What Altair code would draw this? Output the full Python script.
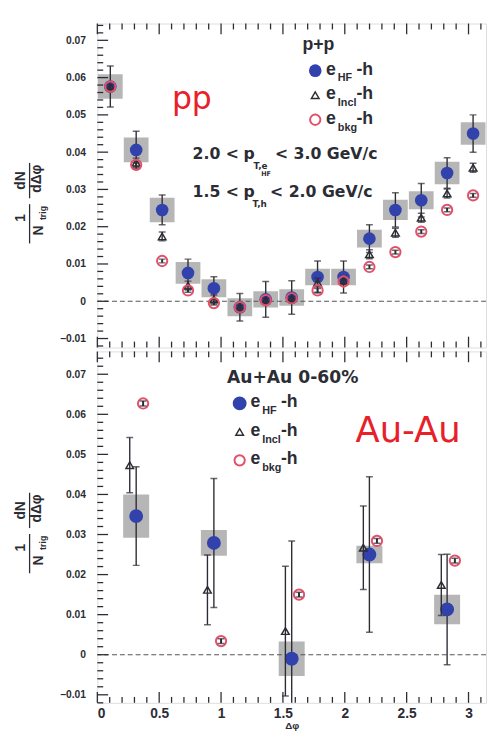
import math
import altair as alt
import pandas as pd

# ------------------------------------------------------------------ data
# p+p panel: 15 delta-phi bins
pp_dphi = [0.105, 0.314, 0.524, 0.733, 0.942, 1.152, 1.361, 1.571,
           1.780, 1.990, 2.199, 2.409, 2.618, 2.827, 3.037]
pp_hf = [0.0576, 0.0406, 0.0245, 0.0076, 0.0035, -0.0016, 0.0005, 0.0010,
         0.0065, 0.0065, 0.0168, 0.0245, 0.0271, 0.0344, 0.0450]
pp_hf_stat = [0.0055, 0.0050, 0.0040, 0.0037, 0.0031, 0.0037, 0.0048, 0.0045,
              0.0043, 0.0043, 0.0037, 0.0046, 0.0045, 0.0041, 0.0050]
pp_hf_sys = [0.0033, 0.0033, 0.0033, 0.0029, 0.0024, 0.0024, 0.0022, 0.0022,
             0.0022, 0.0022, 0.0024, 0.0027, 0.0024, 0.0030, 0.0030]
pp_incl = [0.0576, 0.0372, 0.0174, 0.0042, 0.0005, -0.0016, 0.0003, 0.0008,
           0.0050, 0.0056, 0.0126, 0.0184, 0.0224, 0.0289, 0.0358]
pp_incl_stat = [0.0012, 0.0012, 0.0012, 0.0012, 0.0012, 0.0012, 0.0012, 0.0012,
                0.0012, 0.0012, 0.0012, 0.0012, 0.0012, 0.0012, 0.0012]
pp_bkg = [0.0576, 0.0366, 0.0108, 0.0029, -0.0005, -0.0016, 0.0003, 0.0008,
          0.0029, 0.0053, 0.0092, 0.0132, 0.0187, 0.0245, 0.0284]
pp_bkg_stat = [0.0005, 0.0005, 0.0005, 0.0005, 0.0005, 0.0005, 0.0005, 0.0005,
               0.0005, 0.0005, 0.0005, 0.0005, 0.0005, 0.0005, 0.0005]

# Au+Au 0-60% panel: 5 delta-phi bins
au_dphi = [0.314, 0.942, 1.571, 2.199, 2.827]
au_dphi_incl = [0.262, 0.890, 1.520, 2.150, 2.780]
au_dphi_bkg = [0.370, 1.000, 1.630, 2.260, 2.890]
au_hf = [0.0346, 0.0279, -0.0010, 0.0250, 0.0113]
au_hf_stat = [0.0123, 0.0161, 0.0294, 0.0194, 0.0138]
au_hf_sys = [0.0054, 0.0032, 0.0043, 0.0022, 0.0037]
au_incl = [0.0473, 0.0162, 0.0059, 0.0267, 0.0174]
au_incl_stat = [0.0069, 0.0087, 0.0162, 0.0104, 0.0076]
au_bkg = [0.0627, 0.0034, 0.0150, 0.0284, 0.0235]
au_bkg_stat = [0.0006, 0.0006, 0.0006, 0.0006, 0.0006]

# axes
x_domain = [0, math.pi]
x_major = [0, 0.5, 1, 1.5, 2, 2.5, 3]
x_minor = [round(0.1 * i, 1) for i in range(32) if i % 5 != 0]
y_major = [-0.01, 0, 0.01, 0.02, 0.03, 0.04, 0.05, 0.06, 0.07]
pp_ydomain = [-0.0124, 0.0745]
au_ydomain = [-0.0120, 0.0757]
zero_line = [0.0]

# ------------------------------------------------------------------ style
INK = "#2c2c34"
HF_COLOR = "#3242ad"
BKG_COLOR = "#e2506a"
BOX_COLOR = "#a9a9a9"
RED = "#e8202a"
SANS = "Liberation Sans"
WIDE = "DejaVu Sans"
W = 396
H_TOP = 330
H_BOT = 358


def y_minor(dom):
    out = []
    i = -10
    while True:
        v = round(0.002 * i, 3)
        if v > dom[1]:
            break
        if v >= dom[0] and (i % 5) != 0:
            out.append(v)
        i += 1
    return out


def frame(x, y, stat, sys=None, half=None):
    d = pd.DataFrame({"x": x, "y": y, "e": stat})
    d["lo"] = d["y"] - d["e"]
    d["hi"] = d["y"] + d["e"]
    if sys is not None:
        d["s"] = sys
        d["slo"] = d["y"] - d["s"]
        d["shi"] = d["y"] + d["s"]
        d["xlo"] = d["x"] - half
        d["xhi"] = d["x"] + half
    return d


def text(t, x, y, size, color=INK, weight="bold", font=SANS, align="left",
         baseline="middle", angle=0):
    return alt.Chart(pd.DataFrame({"t": [t]})).mark_text(
        align=align, baseline=baseline, fontSize=size, fontWeight=weight,
        font=font, color=color, angle=angle
    ).encode(x=alt.value(x), y=alt.value(y), text="t:N")


def sym(kind, x, y, big=False):
    d = pd.DataFrame({"a": [0]})
    if kind == "hf":
        m = alt.Chart(d).mark_point(shape="circle", filled=True, opacity=1,
                                    color=HF_COLOR, size=200 if big else 165)
    elif kind == "incl":
        m = alt.Chart(d).mark_point(shape="triangle-up", filled=False, opacity=1,
                                    color=INK, strokeWidth=1.5, size=60)
    else:
        m = alt.Chart(d).mark_point(shape="circle", filled=False, opacity=1,
                                    color=BKG_COLOR, strokeWidth=2, size=110)
    return m.encode(x=alt.value(x), y=alt.value(y))


def panel(hf, incl, bkg, ydom, H, bottom, extras):
    xs = alt.Scale(domain=x_domain, nice=False, zero=False)
    ys = alt.Scale(domain=ydom, nice=False, zero=False)
    if bottom:
        xaxis = alt.Axis(values=x_major, grid=False, ticks=False, domain=False,
                         labelExpr="datum.value == 0 ? '0' : format(datum.value, '~g')",
                         labelFont=SANS, labelFontWeight="bold", labelFontSize=14,
                         labelColor=INK, labelPadding=4, title="Δφ",
                         titleFont=SANS, titleFontSize=10, titleFontWeight="bold",
                         titleColor=INK, titlePadding=0)
    else:
        xaxis = None
    yaxis = alt.Axis(values=y_major, grid=False, ticks=False, domain=False,
                     labelExpr="datum.value == 0 ? '0' : format(datum.value, '.2f')",
                     labelFont=SANS, labelFontWeight="bold", labelFontSize=10.5,
                     labelColor=INK, labelPadding=12, title=None)

    def X(f):
        return alt.X(f + ":Q", scale=xs, axis=xaxis)

    def Y(f):
        return alt.Y(f + ":Q", scale=ys, axis=yaxis)

    layers = []
    # systematic boxes
    layers.append(alt.Chart(hf).mark_rect(color=BOX_COLOR, opacity=0.85, clip=True).encode(
        x=X("xlo"), x2="xhi", y=Y("slo"), y2="shi"))
    # zero line
    layers.append(alt.Chart(pd.DataFrame({"v": zero_line})).mark_rule(
        color="#555", strokeDash=[5, 3], strokeWidth=1.2).encode(y=Y("v")))

    def errs(d, width=1.4):
        bar = alt.Chart(d).mark_rule(color=INK, strokeWidth=width, clip=True).encode(
            x=X("x"), y=Y("lo"), y2="hi")
        c1 = alt.Chart(d).mark_tick(color=INK, orient="horizontal", size=7,
                                    thickness=1.5, clip=True).encode(x=X("x"), y=Y("lo"))
        c2 = alt.Chart(d).mark_tick(color=INK, orient="horizontal", size=7,
                                    thickness=1.5, clip=True).encode(x=X("x"), y=Y("hi"))
        return [bar, c1, c2]

    layers += errs(hf)
    layers.append(alt.Chart(hf).mark_point(shape="circle", filled=True, opacity=1,
                                           color=HF_COLOR,
                                           size=200 if bottom else 165).encode(x=X("x"), y=Y("y")))
    layers += errs(incl)
    layers.append(alt.Chart(incl).mark_point(shape="triangle-up", filled=False, opacity=1,
                                             color=INK, strokeWidth=1.5, size=60).encode(
        x=X("x"), y=Y("y")))
    layers.append(alt.Chart(bkg).mark_point(shape="circle", filled=False, opacity=1,
                                            color=BKG_COLOR, strokeWidth=2, size=110).encode(
        x=X("x"), y=Y("y")))
    layers += errs(bkg, 2)

    # inner ticks
    def yt(vals, L):
        return alt.Chart(pd.DataFrame({"v": vals})).mark_rule(color=INK, strokeWidth=1.3).encode(
            y=Y("v"), x=alt.value(0), x2=alt.value(L))

    def xt(vals, L, top):
        if top:
            return alt.Chart(pd.DataFrame({"v": vals})).mark_rule(color=INK, strokeWidth=1.3).encode(
                x=X("v"), y=alt.value(0), y2=alt.value(L))
        return alt.Chart(pd.DataFrame({"v": vals})).mark_rule(color=INK, strokeWidth=1.3).encode(
            x=X("v"), y=alt.value(H), y2=alt.value(H - L))

    layers += [yt(y_major, 11), yt(y_minor(ydom), 6),
               xt(x_major, 11, True), xt(x_minor, 6, True),
               xt(x_major, 11, False), xt(x_minor, 6, False)]
    layers += extras
    return alt.layer(*layers).properties(width=W, height=H)


def ytitle(oy):
    # rotated 1/N_trig dN/dΔφ, oy = vertical offset inside panel
    parts = [
        text("dN", -78, oy + 0, 14, angle=270, align="center"),
        text("1", -78, oy + 38, 14, angle=270, align="center"),
        text("dΔφ", -61, oy - 2, 14, angle=270, align="center"),
        text("N", -59, oy + 51, 14, angle=270, align="center"),
        text("trig", -55, oy + 33, 9, angle=270, align="center"),
    ]
    lines = [
        alt.Chart(pd.DataFrame({"a": [0]})).mark_rule(color=INK, strokeWidth=1.3).encode(
            x=alt.value(-69), y=alt.value(oy - 18), y2=alt.value(oy + 18)),
        alt.Chart(pd.DataFrame({"a": [0]})).mark_rule(color=INK, strokeWidth=1.3).encode(
            x=alt.value(-69), y=alt.value(oy + 24), y2=alt.value(oy + 64)),
    ]
    return parts + lines


def legend(x0, y0, dy, big):
    out = []
    rows = [("hf", "HF"), ("incl", "Incl"), ("bkg", "bkg")]
    for i, (k, sub) in enumerate(rows):
        yy = y0 + i * dy
        out.append(sym(k, x0, yy, big))
        out.append(text("e", x0 + 11, yy - 1, 18))
        out.append(text(sub, x0 + 23, yy + 8, 11))
        out.append(text("-h", x0 + 42, yy - 1, 18))
    return out


# ------------------------------------------------------------------ panels
pp_extra = [
    text("pp", 76, 87, 32, color=RED, weight="normal", font=WIDE, baseline="alphabetic"),
    text("p+p", 209, 22, 18),
    text("2.0 <", 97, 133, 16, font=WIDE),
    text("p", 149, 133, 16, font=WIDE),
    text("T,e", 159, 145, 9, font=WIDE),
    text("HF", 167, 153, 6.5, font=WIDE),
    text("< 3.0 GeV/c", 181, 133, 16, font=WIDE),
    text("1.5 <", 97, 172, 16, font=WIDE),
    text("p", 149, 172, 16, font=WIDE),
    text("T,h", 158, 184, 9, font=WIDE),
    text("< 2.0 GeV/c", 176, 172, 16, font=WIDE),
] + legend(222, 48, 25, False) + ytitle(160)

au_extra = [
    text("Au-Au", 263, 92, 36, color=RED, weight="normal", font=WIDE, baseline="alphabetic"),
    text("Au+Au 0-60%", 132, 27, 17.5, font=WIDE),
] + legend(145, 53, 29, True) + ytitle(162)

top = panel(frame(pp_dphi, pp_hf, pp_hf_stat, pp_hf_sys, 0.1),
            frame(pp_dphi, pp_incl, pp_incl_stat),
            frame(pp_dphi, pp_bkg, pp_bkg_stat),
            pp_ydomain, H_TOP, False, pp_extra)
bot = panel(frame(au_dphi, au_hf, au_hf_stat, au_hf_sys, 0.105),
            frame(au_dphi_incl, au_incl, au_incl_stat),
            frame(au_dphi_bkg, au_bkg, au_bkg_stat),
            au_ydomain, H_BOT, True, au_extra)

chart = alt.vconcat(top, bot, spacing=0).properties(
    padding={"left": 5, "top": 7, "right": 0, "bottom": 0}
).configure_view(stroke="#222", strokeWidth=1.6).configure(background="white")

chart.save("out.html", embed_options={"renderer": "svg", "actions": False})
